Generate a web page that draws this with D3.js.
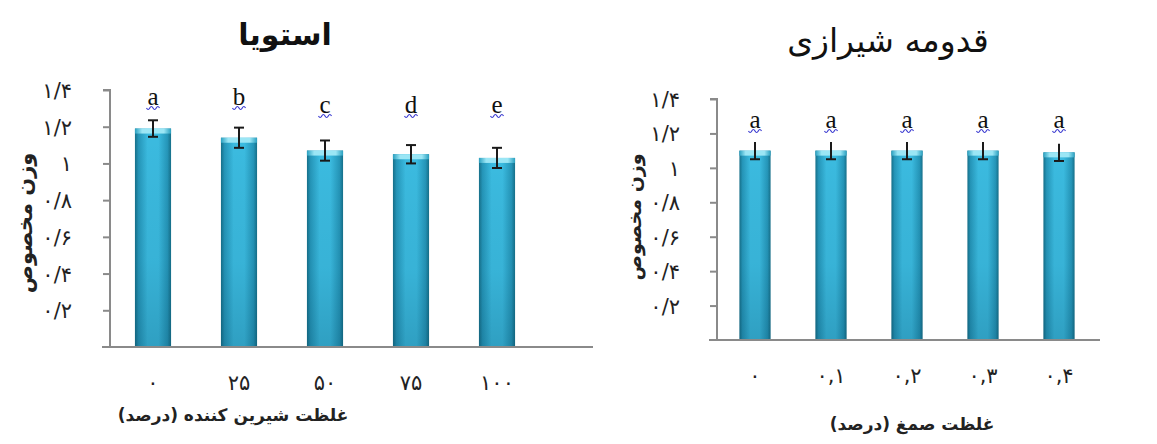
<!DOCTYPE html>
<html><head><meta charset="utf-8">
<script src="https://cdn.jsdelivr.net/npm/d3@7"></script>
<style>body{margin:0;background:#fff}svg{display:block}</style>
</head><body>
<svg id="c" width="1157" height="444"></svg>
<script>
const yTickValues = [0.2, 0.4, 0.6, 0.8, 1.0, 1.2, 1.4];
const yTickLabels = ["۰/۲", "۰/۴", "۰/۶", "۰/۸", "۱", "۱/۲", "۱/۴"];

const leftTitle = "استویا";
const leftCats = ["۰", "۲۵", "۵۰", "۷۵", "۱۰۰"];
const leftValues = [1.19, 1.14, 1.07, 1.05, 1.03];
const leftErrors = [0.045, 0.055, 0.055, 0.05, 0.055];
const leftLetters = ["a", "b", "c", "d", "e"];
const leftXTitle = "غلظت شیرین کننده (درصد)";

const rightTitle = "قدومه شیرازی";
const rightCats = ["۰", "۰,۱", "۰,۲", "۰,۳", "۰,۴"];
const rightValues = [1.10, 1.10, 1.10, 1.10, 1.09];
const rightErrors = [0.05, 0.05, 0.05, 0.05, 0.05];
const rightLetters = ["a", "a", "a", "a", "a"];
const rightXTitle = "غلظت صمغ (درصد)";

const yTitle = "وزن مخصوص";

const svg = d3.select("#c");
const defs = svg.append("defs");
const hg = defs.append("linearGradient").attr("id","hg").attr("x1","0").attr("x2","1").attr("y1","0").attr("y2","0");
[["0%","#16708a"],["10%","#2596b9"],["35%","#3bbbe0"],["65%","#3bbbe0"],["90%","#2596b9"],["100%","#16708a"]]
  .forEach(s=>hg.append("stop").attr("offset",s[0]).attr("stop-color",s[1]));
const vg = defs.append("linearGradient").attr("id","vg").attr("x1","0").attr("x2","0").attr("y1","0").attr("y2","1");
[["0%","#000",0],["60%","#003048",0.06],["100%","#003048",0.2]].forEach(s=>vg.append("stop").attr("offset",s[0]).attr("stop-color",s[1]).attr("stop-opacity",s[2]));
const tg = defs.append("linearGradient").attr("id","tg").attr("x1","0").attr("x2","1").attr("y1","0").attr("y2","0");
[["0%","#2aa0c0"],["20%","#9be6f5"],["80%","#9be6f5"],["100%","#2aa0c0"]]
  .forEach(s=>tg.append("stop").attr("offset",s[0]).attr("stop-color",s[1]));

function squiggle(g, cx, y, w) {
  const n = 4, seg = w / n;
  let p = `M${cx - w/2},${y}`;
  for (let i = 0; i < n; i++) {
    const x0 = cx - w/2 + i*seg;
    p += ` Q${x0 + seg/2},${y + (i%2 ? -3 : 3)} ${x0 + seg},${y}`;
  }
  g.append("path").attr("d", p).attr("fill","none").attr("stroke","#3a3ad0").attr("stroke-width",1.2);
}

function chart(o) {
  const g = svg.append("g");
  const y = d3.scaleLinear().domain([0, 1.4]).range([o.y0, o.y1]);
  const x = d3.scaleBand().domain(o.cats).range([o.x0, o.x1]).paddingInner(o.pad).paddingOuter(o.pad/2);

  const ya = d3.axisLeft(y).tickValues(yTickValues).tickSize(7).tickFormat(()=>"");
  const yg = g.append("g").attr("transform",`translate(${o.x0},0)`).call(ya);
  yg.select(".domain").attr("d", `M${-7},${y(1.4)}H0V${y(0)}`).attr("stroke","#8a8a8a").attr("stroke-width",2).attr("fill","none");
  yg.selectAll(".tick line").attr("stroke","#8a8a8a").attr("stroke-width",2);
  g.selectAll(".ylab").data(yTickValues).join("text")
    .attr("x", o.labX).attr("y", d=>y(d)+8).attr("text-anchor","end").attr("direction","ltr")
    .attr("font-family","DejaVu Sans").attr("font-size",21).attr("fill","#222")
    .text((d,i)=>yTickLabels[i]);

  o.vals.forEach((v,i)=>{
    const bx = x(o.cats[i]), bw = x.bandwidth(), top = y(v), h = y(0)-y(v);
    g.append("rect").attr("x",bx).attr("y",top).attr("width",bw).attr("height",h).attr("fill","url(#hg)");
    g.append("rect").attr("x",bx).attr("y",top).attr("width",bw).attr("height",h).attr("fill","url(#vg)");
    g.append("rect").attr("x",bx).attr("y",top).attr("width",bw).attr("height",5).attr("fill","url(#tg)");
  });

  g.append("line").attr("x1",o.x0-8).attr("x2",o.axEnd).attr("y1",y(0)).attr("y2",y(0))
    .attr("stroke","#8a8a8a").attr("stroke-width",2);

  o.vals.forEach((v,i)=>{
    const cx = x(o.cats[i]) + x.bandwidth()/2, e = o.errs[i];
    g.append("line").attr("x1",cx).attr("x2",cx).attr("y1",y(v+e)).attr("y2",y(v-e)).attr("stroke","#1a1a1a").attr("stroke-width",2);
    g.append("line").attr("x1",cx-5).attr("x2",cx+5).attr("y1",y(v-e)).attr("y2",y(v-e)).attr("stroke","#1a1a1a").attr("stroke-width",2);
    if (o.topCap) g.append("line").attr("x1",cx-5).attr("x2",cx+5).attr("y1",y(v+e)).attr("y2",y(v+e)).attr("stroke","#1a1a1a").attr("stroke-width",2);
    const ly = o.letterY(i);
    g.append("text").attr("x",cx).attr("y",ly).attr("text-anchor","middle")
      .attr("font-family","Liberation Serif").attr("font-size",25).attr("fill","#111").text(o.letters[i]);
    squiggle(g, cx, ly+3, 13);
  });

  g.selectAll(".xlab").data(o.cats).join("text")
    .attr("x", d=>x(d)+x.bandwidth()/2).attr("y", o.xLabY).attr("text-anchor","middle").attr("direction","ltr")
    .attr("font-family","DejaVu Sans").attr("font-size",21).attr("fill","#222").text(d=>d);

  g.append("text").attr("x",o.tX).attr("y",o.tY).attr("text-anchor","middle").attr("direction","rtl")
    .attr("font-family","DejaVu Sans").attr("font-weight",o.tBold?"bold":"normal").attr("font-size",o.tSize).attr("fill","#111").text(o.title);
  g.append("text").attr("x",o.xtX).attr("y",o.xtY).attr("text-anchor","middle").attr("direction","rtl")
    .attr("font-family","DejaVu Sans").attr("font-weight","bold").attr("font-size",o.xtSize).attr("fill","#222").text(o.xTitle);
  g.append("text").attr("transform",`translate(${o.ytX},${o.ytY}) rotate(-90)`).attr("text-anchor","middle").attr("direction","rtl")
    .attr("font-family","DejaVu Sans").attr("font-weight","bold").attr("font-size",o.ytSize).attr("fill","#222").text(yTitle);
}

chart({cats:leftCats, vals:leftValues, errs:leftErrors, letters:leftLetters, title:leftTitle, xTitle:leftXTitle,
  x0:110, x1:540, y0:347, y1:90, pad:0.58, axEnd:593, labX:72, topCap:true,
  letterY:i=> i<2 ? 105 : 113, xLabY:390, tX:285, tY:45, tBold:true, tSize:30,
  xtX:233, xtY:421, xtSize:17, ytX:32, ytY:223, ytSize:21});

chart({cats:rightCats, vals:rightValues, errs:rightErrors, letters:rightLetters, title:rightTitle, xTitle:rightXTitle,
  x0:717, x1:1097, y0:340, y1:99, pad:0.59, axEnd:1100, labX:680, topCap:false,
  letterY:i=>128, xLabY:383, tX:888, tY:52, tBold:false, tSize:33,
  xtX:912, xtY:430, xtSize:17, ytX:641, ytY:217, ytSize:19});
</script>
</body></html>
